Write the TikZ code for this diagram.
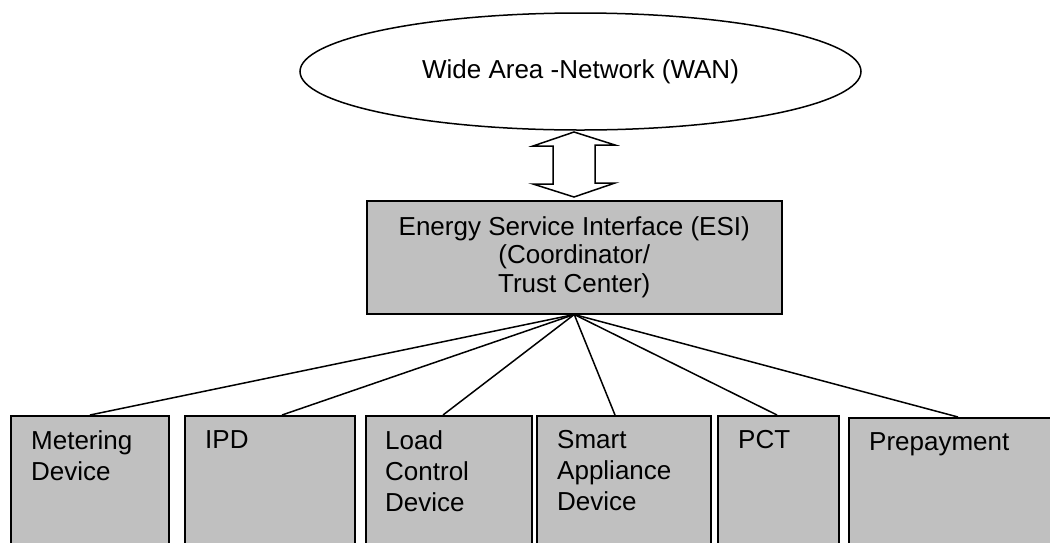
\documentclass[tikz,border=0pt]{standalone}
\usepackage{fontspec}
\setmainfont{Liberation Sans}
\usetikzlibrary{shapes.geometric,calc}
\definecolor{boxgray}{RGB}{192,192,192}
\tikzset{
  lw/.style={line width=1.5pt},
  graybox/.style={draw, lw, fill=boxgray, rectangle, inner sep=0pt, anchor=north west},
  boxlabel/.style={anchor=north west, inner sep=0pt, align=left,
    font=\fontsize{26}{31}\selectfont},
  link/.style={lw}
}
\begin{document}
\begin{tikzpicture}[x=1pt, y=-1pt]
  \useasboundingbox (0,0) rectangle (1050,542);
  \clip (0,0) rectangle (1050,542);

  % wide area network
  \node[draw, lw, ellipse, minimum width=561, minimum height=117, inner sep=0pt,
        font=\fontsize{26}{30}\selectfont] (wan) at (580.5,71.5) {Wide Area -Network (WAN)};

  % energy service interface
  \node[graybox, minimum width=415, minimum height=113, align=center,
        font=\fontsize{26}{28.5}\selectfont] (esi) at (366,200)
        {Energy Service Interface (ESI)\\(Coordinator/\\Trust Center)};

  % two-way link between WAN and ESI
  \coordinate (mid) at (574,164.5);
  \draw[lw, fill=white, line join=miter]
    ($(mid)+(0,-32.5)$) -- ++(41,13) -- ++(-20,0) -- ++(0,38) -- ++(20,0)
    -- ($(mid)+(0,32.5)$) -- ++(-41,-13) -- ++(20,0) -- ++(0,-38) -- ++(-20,0) -- cycle;

  % devices
  \node[graybox, minimum width=158, minimum height=160] (b1) at (10,415) {};
  \node[graybox, minimum width=170, minimum height=160] (b2) at (184,415) {};
  \node[graybox, minimum width=166, minimum height=160] (b3) at (365,415) {};
  \node[graybox, minimum width=174, minimum height=160] (b4) at (536,415) {};
  \node[graybox, minimum width=121, minimum height=160] (b5) at (717,415) {};
  \node[graybox, minimum width=230, minimum height=160] (b6) at (848,417) {};

  \node[boxlabel] (t1) at ($(b1.north west)+(21,15)$) {Metering\\Device};
  \node[boxlabel] (t2) at ($(b2.north west)+(21,15)$) {IPD};
  \node[boxlabel] (t3) at ($(b3.north west)+(20,15)$) {Load\\Control\\Device};
  \node[boxlabel] (t4) at ($(b4.north west)+(21,15)$) {Smart\\Appliance\\Device};
  \node[boxlabel] (t5) at ($(b5.north west)+(21,15)$) {PCT};
  \node[boxlabel] (t6) at ($(b6.north west)+(21,15)$) {Prepayment};

  % links from ESI to devices
  \draw[link] (esi.south) -- ($(b1.north west)+(80,0)$);
  \draw[link] (esi.south) -- ($(b2.north west)+(98,0)$);
  \draw[link] (esi.south) -- ($(b3.north west)+(78,0)$);
  \draw[link] (esi.south) -- ($(b4.north west)+(79,0)$);
  \draw[link] (esi.south) -- ($(b5.north west)+(60,0)$);
  \draw[link] (esi.south) -- ($(b6.north west)+(110,0)$);
\end{tikzpicture}
\end{document}
